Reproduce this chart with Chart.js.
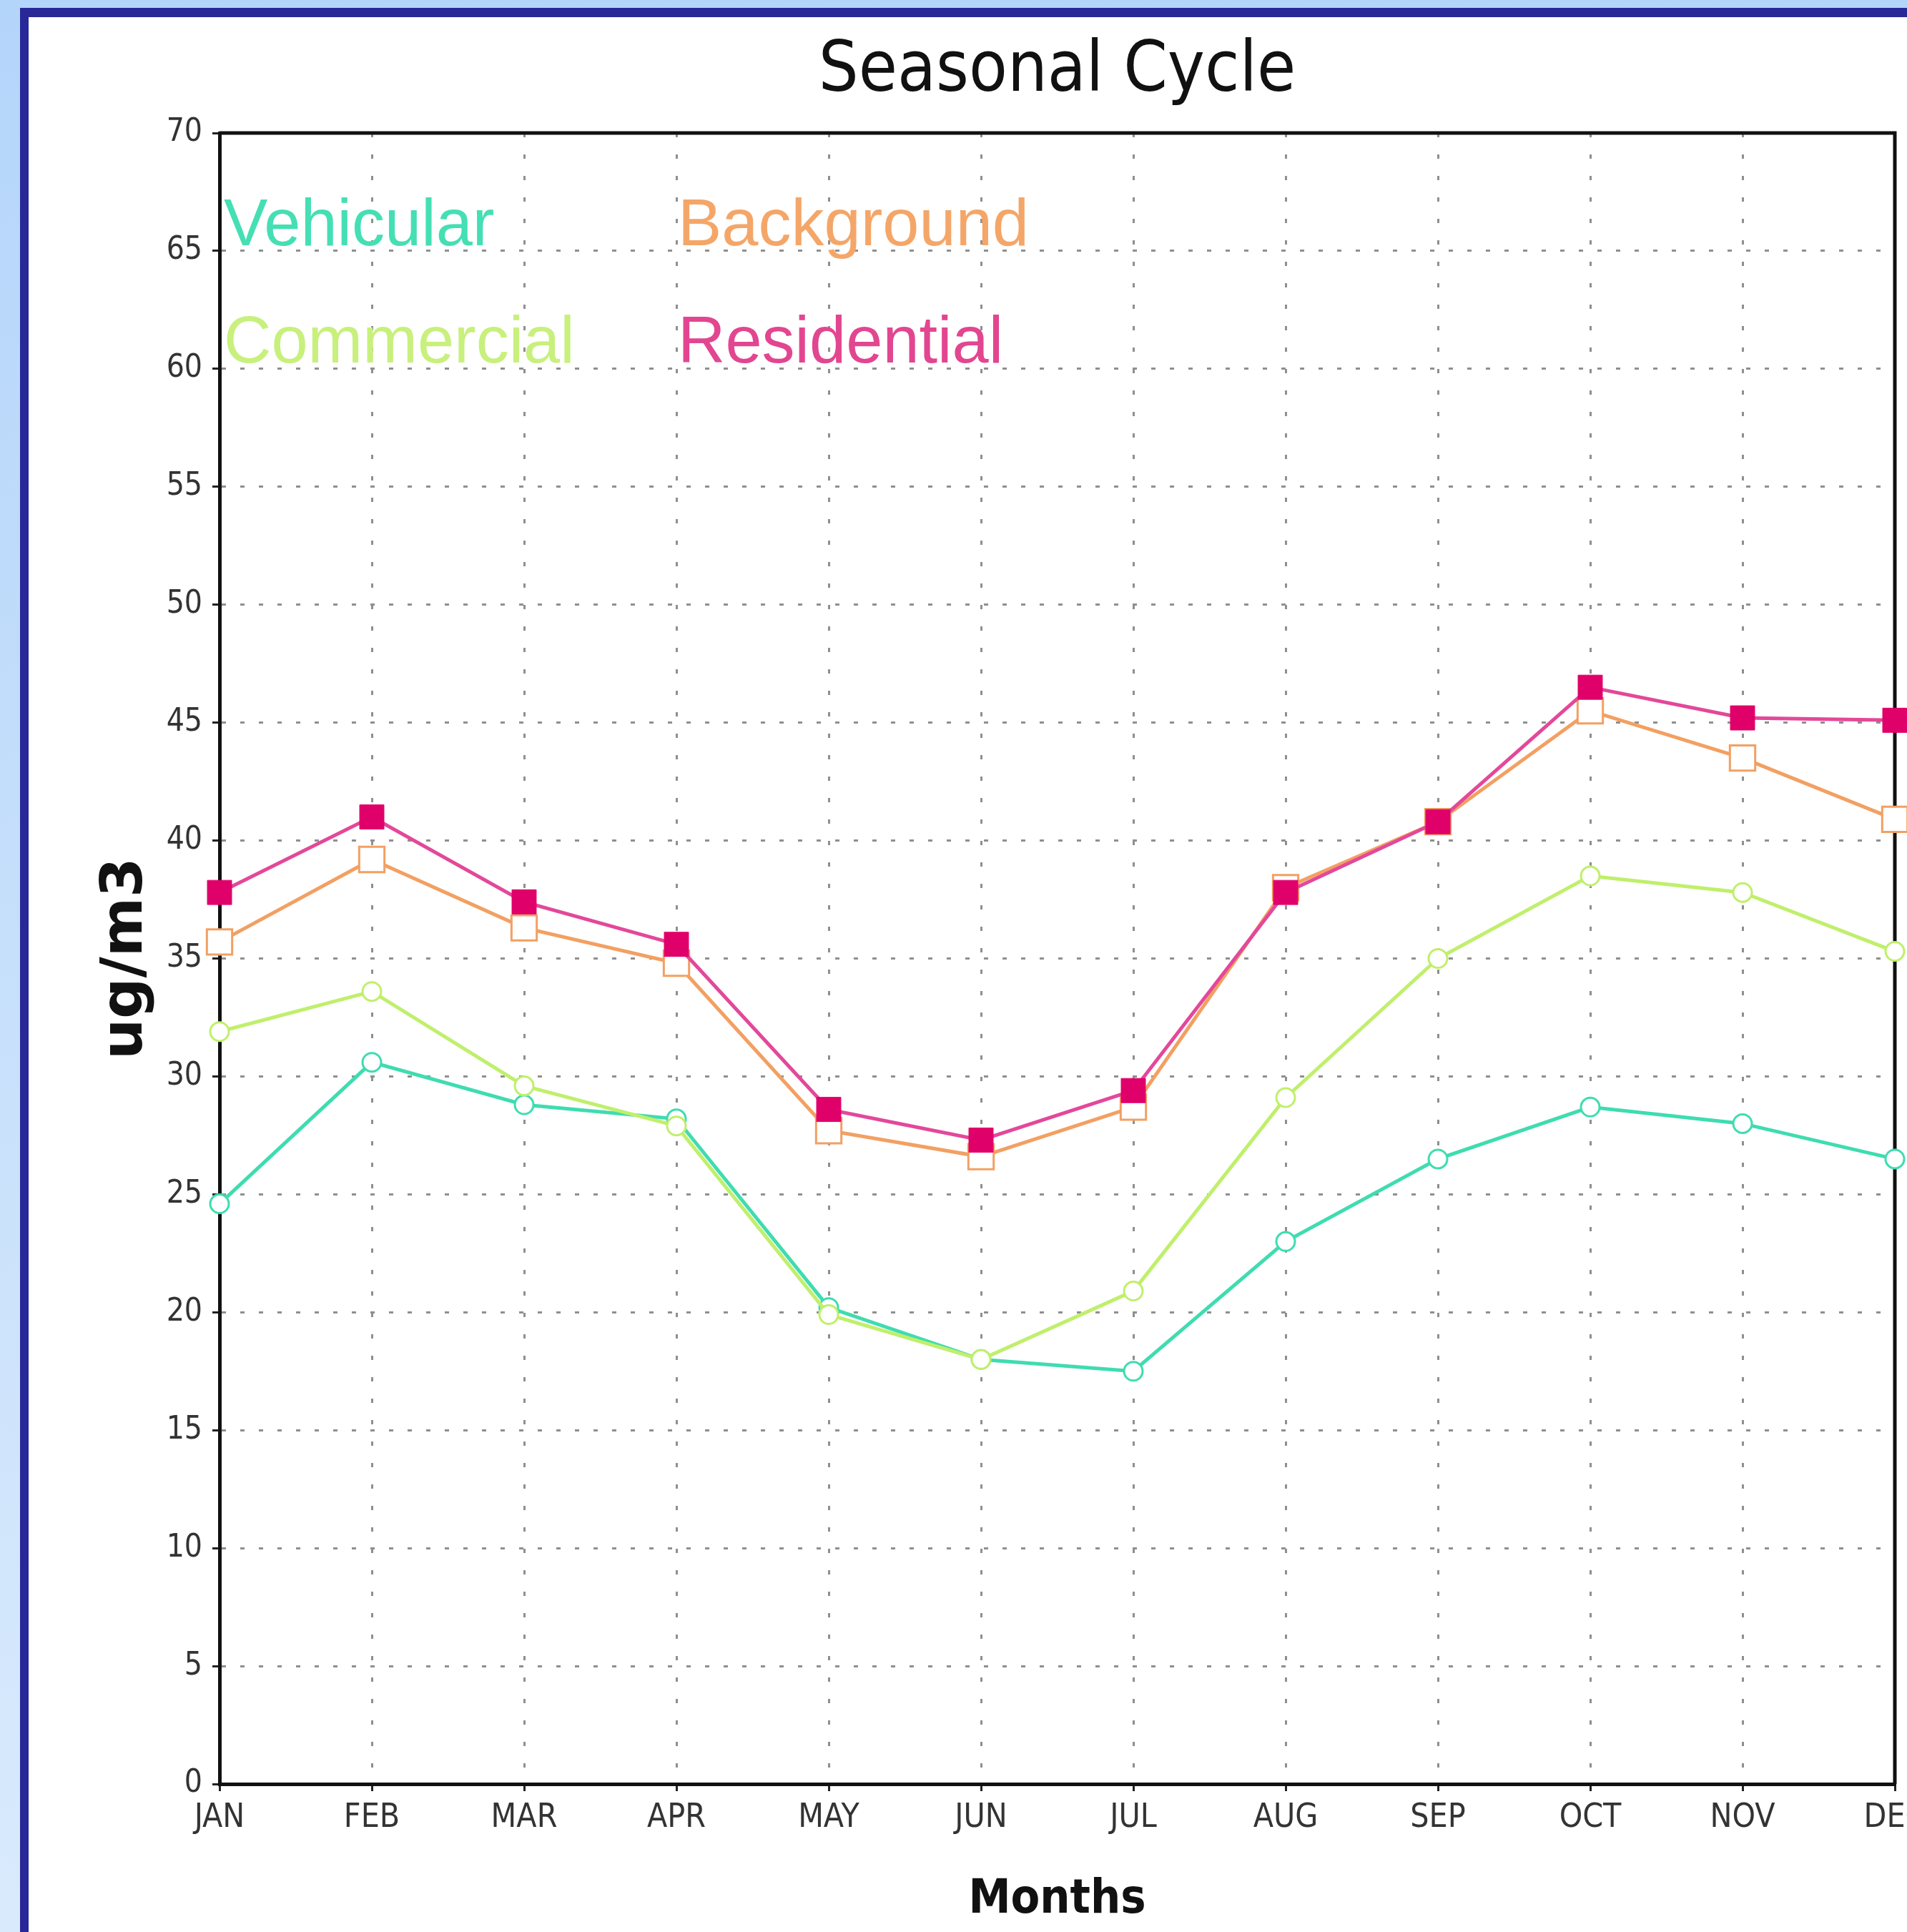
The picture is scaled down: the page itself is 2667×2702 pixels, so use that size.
<!DOCTYPE html>
<html><head><meta charset="utf-8">
<script src="https://cdn.jsdelivr.net/npm/chart.js@4.4.0/dist/chart.umd.min.js"></script>
<style>
html,body{margin:0;padding:0;width:2667px;height:2702px;overflow:hidden;background:linear-gradient(180deg,#b4d5fa 0%,#d9eafc 100%);}
#frame{position:absolute;left:28px;top:11px;width:2700px;height:2720px;background:#fff;border-left:12px solid #282899;border-top:13px solid #282899;}
#c{position:absolute;left:0;top:0;width:2680px;height:2678px;}
</style></head>
<body><div id="frame"><canvas id="c" width="2680" height="2678"></canvas></div>
<script>
const months = ['JAN','FEB','MAR','APR','MAY','JUN','JUL','AUG','SEP','OCT','NOV','DEC'];
const seriesNames = ['Vehicular','Background','Commercial','Residential'];
const vehicular   = [24.6, 30.6, 28.8, 28.2, 20.2, 18.0, 17.5, 23.0, 26.5, 28.7, 28.0, 26.5];
const background  = [35.7, 39.2, 36.3, 34.8, 27.7, 26.6, 28.7, 38.0, 40.8, 45.5, 43.5, 40.9];
const commercial  = [31.9, 33.6, 29.6, 27.9, 19.9, 18.0, 20.9, 29.1, 35.0, 38.5, 37.8, 35.3];
const residential = [37.8, 41.0, 37.4, 35.6, 28.6, 27.3, 29.4, 37.8, 40.8, 46.5, 45.2, 45.1];
const yMin = 0, yMax = 70, yStep = 5;

const NARROW = "'Liberation Sans Narrow','DejaVu Sans Condensed',sans-serif";

const framePlugin = {
  id: 'framePlugin',
  beforeDatasetsDraw(chart) {
    const {ctx, chartArea: a} = chart;
    ctx.save();
    ctx.strokeStyle = '#111';
    ctx.lineWidth = 5;
    ctx.beginPath();
    ctx.moveTo(a.left, a.top); ctx.lineTo(a.right, a.top); ctx.lineTo(a.right, a.bottom);
    ctx.stroke();
    ctx.restore();
  }
};

const legendPlugin = {
  id: 'textLegend',
  afterDatasetsDraw(chart) {
    const {ctx, chartArea: a} = chart;
    const pos = [[6,157],[641,157],[6,321],[641,321]];
    const order = ['Vehicular','Background','Commercial','Residential'];
    ctx.save();
    ctx.font = "92px 'Liberation Sans','Arial',sans-serif";
    ctx.textBaseline = 'alphabetic';
    ctx.textAlign = 'left';
    order.forEach((name, i) => {
      const ds = chart.data.datasets.find(d => d.label === name);
      ctx.fillStyle = ds.legendColor;
      ctx.fillText(name, a.left + pos[i][0], a.top + pos[i][1]);
    });
    ctx.restore();
  }
};

new Chart(document.getElementById('c'), {
  type: 'line',
  data: {
    labels: months,
    datasets: [
      {label: seriesNames[0], data: vehicular, borderColor: '#3fdcb0', legendColor: '#45dfb4',
       backgroundColor: '#ffffff', pointBackgroundColor: '#ffffff', pointBorderColor: '#3fdcb0',
       pointStyle: 'circle', pointRadius: 13, pointBorderWidth: 3, borderWidth: 5, order: 3},
      {label: seriesNames[1], data: background, borderColor: '#f2a062', legendColor: '#f4a668',
       backgroundColor: '#ffffff', pointBackgroundColor: '#ffffff', pointBorderColor: '#f2a062',
       pointStyle: 'rect', pointRadius: 25, pointBorderWidth: 3, borderWidth: 5, order: 1},
      {label: seriesNames[2], data: commercial, borderColor: '#c0ef6c', legendColor: '#c8f07c',
       backgroundColor: '#ffffff', pointBackgroundColor: '#ffffff', pointBorderColor: '#c0ef6c',
       pointStyle: 'circle', pointRadius: 13, pointBorderWidth: 3, borderWidth: 5, order: 2},
      {label: seriesNames[3], data: residential, borderColor: '#e3489a', legendColor: '#e24690',
       backgroundColor: '#e0006a', pointBackgroundColor: '#e0006a', pointBorderColor: '#e0006a',
       pointStyle: 'rect', pointRadius: 24, pointBorderWidth: 1, borderWidth: 5, order: 0}
    ]
  },
  options: {
    responsive: false,
    animation: false,
    devicePixelRatio: 1,
    layout: {padding: {left: 0, right: 70, top: 0, bottom: 0}},
    plugins: {
      legend: {display: false},
      tooltip: {enabled: false},
      title: {
        display: true, text: 'Seasonal Cycle', fullSize: false, color: '#111',
        font: {family: NARROW, size: 98, weight: 'normal', lineHeight: 1.0},
        padding: {top: 29, bottom: 35}
      }
    },
    scales: {
      x: {
        grid: {color: '#8f8f8f', lineWidth: 3, drawTicks: true, tickLength: 10,
               tickColor: '#222', tickWidth: 3, tickBorderDash: []},
        border: {display: true, color: '#111', width: 5, dash: [6, 24]},
        ticks: {color: '#333', padding: 10, maxRotation: 0, autoSkip: false,
                font: {family: NARROW, size: 46, weight: 'normal'}},
        title: {display: true, text: 'Months', color: '#111',
                font: {family: NARROW, size: 66, weight: 'bold', lineHeight: 1.0},
                padding: {top: 0, bottom: 11}},
        afterFit(scale) { scale.height = 207; }
      },
      y: {
        min: yMin, max: yMax,
        grid: {color: '#8f8f8f', lineWidth: 3, drawTicks: true, tickLength: 10,
               tickColor: '#222', tickWidth: 3, tickBorderDash: []},
        border: {display: true, color: '#111', width: 5, dash: [6, 20]},
        ticks: {stepSize: yStep, color: '#333', padding: 14,
                font: {family: NARROW, size: 44, weight: 'normal'}},
        title: {display: true, text: 'ug/m3', color: '#111',
                font: {family: "'DejaVu Sans',sans-serif", size: 80, weight: 'bold', lineHeight: 1.0},
                padding: {top: 97, bottom: 0}},
        afterFit(scale) { scale.width = 267; }
      }
    }
  },
  plugins: [framePlugin, legendPlugin]
});
</script>
</body></html>
